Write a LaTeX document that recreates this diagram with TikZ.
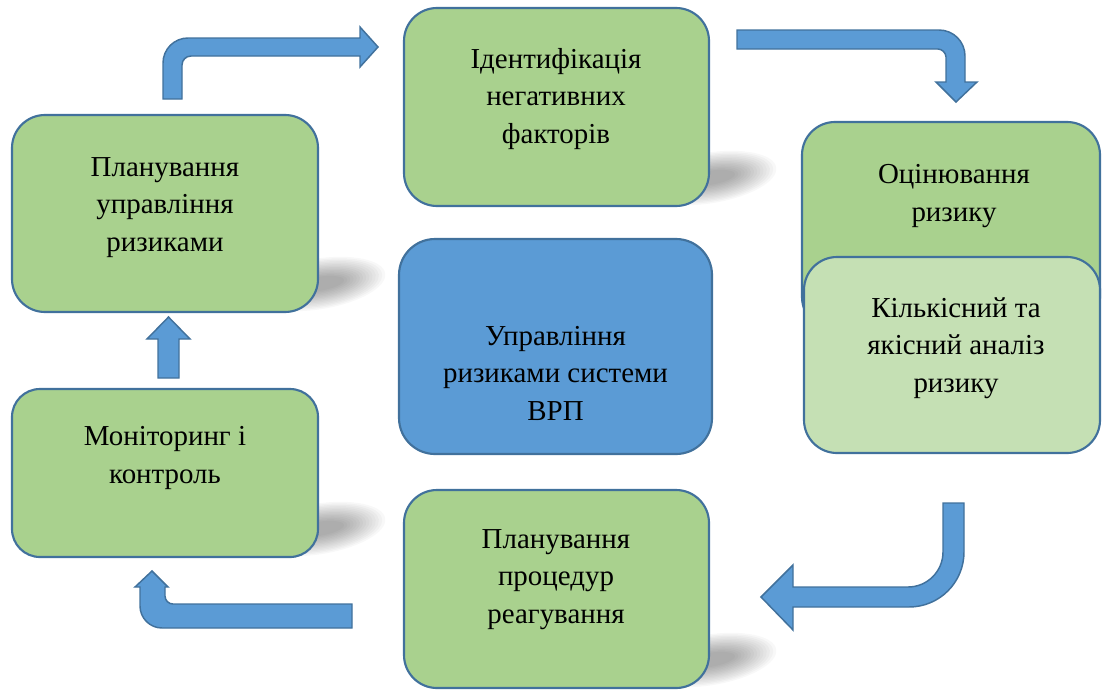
\documentclass[tikz,border=0pt]{standalone}
\usepackage{fontspec}
\setmainfont{Liberation Serif}
\usetikzlibrary{fit}
\definecolor{grn}{HTML}{A9D18E}
\definecolor{lgrn}{HTML}{C5E0B4}
\definecolor{blu}{HTML}{5B9BD5}
\definecolor{bord}{HTML}{41719C}
\newcommand\bshadow[2]{%
  \foreach \k in {0,...,13}{%
    \fill[black,opacity=0.027,rotate around={9:(#1,#2-28)}] (#1,#2-28)
      ellipse [x radius={(51-2.4*\k)*1pt}, y radius={(19-1.05*\k)*1pt}];}}
\tikzset{
  box/.style={draw=bord, line width=1.6pt, fill=grn, inner sep=0pt, rounded corners=#1},
  box/.default=24.75pt,
  txt/.style={font=\fontsize{21.7}{28.1}\selectfont, align=center, inner sep=0pt, anchor=base},
  blockarrow/.style={fill=blu, draw=bord, line width=1.1pt, line join=miter}
}
\begin{document}
\begin{tikzpicture}[x=0.75pt,y=-0.75pt]
\useasboundingbox (0,0) rectangle (1102,689);
% shadows
\bshadow{318}{312}
\bshadow{318}{557}
\bshadow{709}{206}
\bshadow{709}{688}
% boxes
\node[box, fit={(12,115)(318,312)}] (plan) {};
\node[box, fit={(404,8)(709,206)}] (ident) {};
\node[box, fit={(802,122)(1100,330)}] (ocin) {};
\node[box, fill=lgrn, fit={(804,257)(1100,453)}] (kilk) {};
\node[box=27pt, fill=blu, fit={(399,239)(712,454)}] (core) {};
\node[box=21pt, fit={(12,389)(318,557)}] (monit) {};
\node[box, fit={(404,490)(709,688)}] (react) {};
% texts (anchor base = last line baseline)
\node[txt] (plant) at (165,251) {Планування\\управління\\ризиками};
\node[txt] (identt) at (556,143) {Ідентифікація\\негативних\\факторів};
\node[txt] (ocint) at (954,221) {Оцінювання\\ризику};
\node[txt] (kilkt) at (956,392) {Кількісний та\\якісний аналіз\\ризику};
\node[txt] (coret) at (555.5,420) {Управління\\ризиками системи\\ВРП};
\node[txt] (monitt) at (165,483) {Моніторинг і\\контроль};
\node[txt] (reactt) at (556,623) {Планування\\процедур\\реагування};
% block arrows
\draw[blockarrow] (163,99) -- (163,63) .. controls (163,49.2) and (174.2,38) .. (188,38)
  -- (360,38) -- (360,27) -- (378,47) -- (360,67) -- (360,56) -- (191,56)
  .. controls (186,56) and (182,60) .. (182,65) -- (182,99) -- cycle;
\draw[blockarrow] (737,30) -- (939,30) .. controls (953.4,30) and (965,41.6) .. (965,56)
  -- (965,82) -- (977,82) -- (956,102) -- (936,82) -- (946,82) -- (946,57)
  .. controls (946,52.6) and (941.6,49) .. (938,49) -- (737,49) -- cycle;
\draw[blockarrow] (943,503) -- (964,503) -- (964,552) .. controls (964,582.4) and (939.4,607) .. (909,607)
  -- (793,607) -- (793,630) -- (761,597) -- (793,565) -- (793,587) -- (908,587)
  .. controls (927.3,587) and (943,571.3) .. (943,552) -- cycle;
\draw[blockarrow] (352,604) -- (173,604) .. controls (168.6,604) and (165,600.4) .. (165,596)
  -- (165,587) -- (168,587) -- (152,571) -- (135,587) -- (140,587) -- (140,606)
  .. controls (140,618.1) and (149.9,628) .. (162,628) -- (352,628) -- cycle;
\draw[blockarrow] (158,378) -- (158,339) -- (147,339) -- (168.5,317) -- (190,339)
  -- (179,339) -- (179,378) -- cycle;
\end{tikzpicture}
\end{document}
